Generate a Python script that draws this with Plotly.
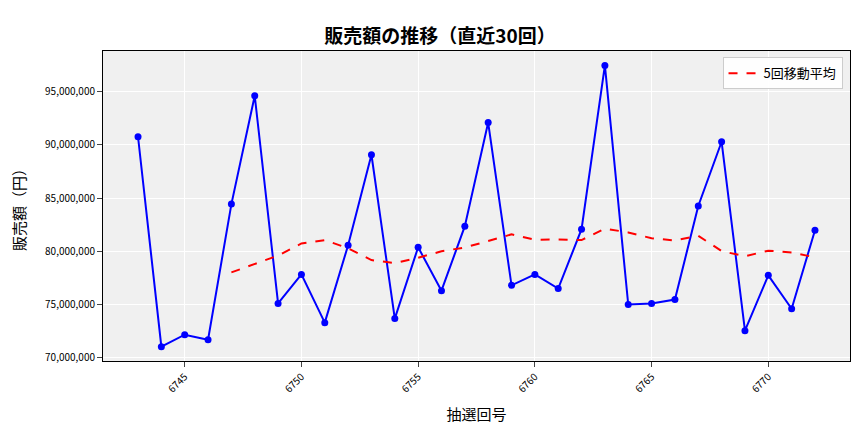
import plotly.graph_objects as go
import pandas as pd

draws = list(range(6743, 6773))
sales = [90.75, 71.04, 72.17, 71.7, 84.43, 94.6, 75.1, 77.83, 73.3, 80.57,
         89.06, 73.68, 80.38, 76.3, 82.36, 92.08, 76.8, 77.83, 76.5, 82.07,
         97.45, 75.0, 75.1, 75.47, 84.25, 90.28, 72.55, 77.74, 74.6, 81.98]
sales = [v * 1e6 for v in sales]
ma5 = pd.Series(sales).rolling(5).mean().tolist()

font = "Noto Sans CJK JP"
fig = go.Figure()
fig.add_trace(go.Scatter(x=draws, y=sales, mode="lines+markers", showlegend=False,
                         line=dict(color="#0000ff", width=2), marker=dict(size=7, color="#0000ff")))
fig.add_trace(go.Scatter(x=draws, y=ma5, mode="lines", name="5回移動平均",
                         line=dict(color="#ff0000", width=2, dash="dash")))
fig.update_layout(
    width=864, height=432, paper_bgcolor="white", plot_bgcolor="#f0f0f0",
    font=dict(family=font, color="black"),
    title=dict(text="<b>販売額の推移（直近30回）</b>", x=0.5, xanchor="center", y=0.95, font=dict(size=19)),
    margin=dict(l=92, r=22, t=43, b=79),
    legend=dict(x=0.99, y=0.98, xanchor="right", yanchor="top", bgcolor="rgba(255,255,255,0.9)",
                bordercolor="#cccccc", borderwidth=1, font=dict(size=13)),
    xaxis=dict(title=dict(text="抽選回号", font=dict(size=15)), tickvals=list(range(6745, 6773, 5)),
               tickangle=-45, tickfont=dict(size=10), range=[6741.5, 6773.5],
               gridcolor="white", showline=True, linecolor="black", mirror=True, ticks="outside", zeroline=False),
    yaxis=dict(title=dict(text="販売額（円）", font=dict(size=15)), tickformat=",d",
               tickvals=[70e6, 75e6, 80e6, 85e6, 90e6, 95e6], tickfont=dict(size=10),
               range=[69.7e6, 98.8e6], gridcolor="white", showline=True, linecolor="black",
               mirror=True, ticks="outside", zeroline=False),
)
fig.write_html("out.html")
